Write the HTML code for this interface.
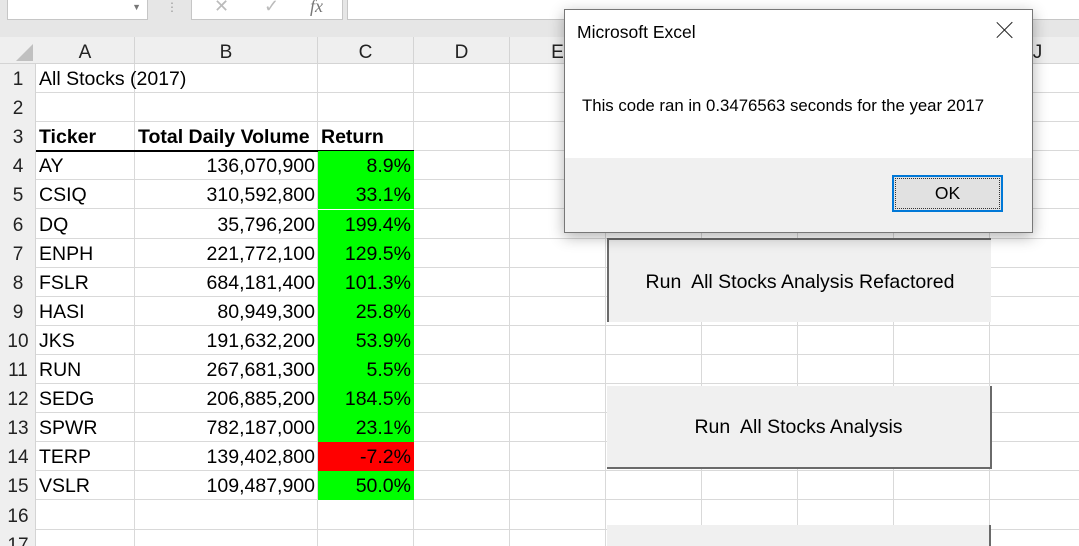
<!DOCTYPE html>
<html style="overflow:hidden;height:546px"><head><meta charset="utf-8">
<style>
body{margin:0;width:1079px;height:546px;overflow:hidden;background:#fff;font-family:"Liberation Sans",sans-serif;position:relative}
.abs{position:absolute;box-sizing:border-box}
.cell{position:absolute;box-sizing:border-box;font-size:19.5px;line-height:29px;white-space:nowrap;padding:0 3px;color:#000}
</style></head><body>
<div class="abs" style="left:0;top:0;width:1079px;height:37px;background:#e6e6e6"></div>
<div class="abs" style="left:7px;top:-1px;width:141px;height:21px;background:#fff;border:1px solid #c6c6c6"><span style="position:absolute;right:6px;top:2px;font-size:9px;color:#777">▼</span></div>
<div class="abs" style="left:191px;top:-1px;width:152px;height:21px;background:#fff;border:1px solid #c6c6c6;color:#bbb;font-size:18px">
<span style="position:absolute;left:22px;top:-4px">✕</span><span style="position:absolute;left:72px;top:-4px">✓</span><span style="position:absolute;left:118px;top:-4px;font-family:'Liberation Serif';font-style:italic;color:#777">fx</span></div>
<div class="abs" style="left:347px;top:-1px;width:740px;height:21px;background:#fff;border:1px solid #c6c6c6"></div>
<div class="abs" style="left:166px;top:0;color:#999;font-size:12px">⋮</div>
<div id="grid" style="position:absolute;left:0;top:0;width:1079px;height:546px;overflow:hidden"></div>
<div class="abs" style="left:607px;top:238px;width:384px;height:84px;background:#f0f0f0;border-left:2px solid #6a6a6a;border-top:2px solid #6a6a6a;font-size:19.5px;text-align:center;line-height:84px">Run&nbsp; All Stocks Analysis Refactored</div>
<div class="abs" style="left:607px;top:386px;width:385px;height:83px;background:#f0f0f0;border-right:2px solid #6a6a6a;border-bottom:2px solid #6a6a6a;font-size:19.5px;text-align:center;line-height:83px">Run&nbsp; All Stocks Analysis</div>
<div class="abs" style="left:607px;top:525px;width:384px;height:21px;background:#f0f0f0;border-right:2px solid #6a6a6a"></div>
<div class="abs" style="left:564px;top:9px;width:469px;height:224px;background:#fff;border:1px solid #777;box-shadow:0 4px 14px rgba(0,0,0,.3)">
<div class="abs" style="left:12px;top:12px;font-size:17.5px">Microsoft Excel</div>
<div class="abs" style="left:432px;top:12px;width:16px;height:16px">
<div style="position:absolute;left:7px;top:-3px;width:1.3px;height:22px;background:#222;transform:rotate(45deg)"></div>
<div style="position:absolute;left:7px;top:-3px;width:1.3px;height:22px;background:#222;transform:rotate(-45deg)"></div></div>
<div class="abs" style="left:17px;top:86px;font-size:16.8px">This code ran in 0.3476563 seconds for the year 2017</div>
<div class="abs" style="left:0;top:148px;width:467px;height:74px;background:#f0f0f0">
<div class="abs" style="left:327px;top:17px;width:111px;height:37px;background:#e1e1e1;border:2px solid #0078d7;outline:1px dotted #333;outline-offset:-4px;text-align:center;line-height:33px;font-size:17.5px">OK</div>
</div></div>
<script>
const tickers=["AY","CSIQ","DQ","ENPH","FSLR","HASI","JKS","RUN","SEDG","SPWR","TERP","VSLR"];
const volumes=[136070900,310592800,35796200,221772100,684181400,80949300,191632200,267681300,206885200,782187000,139402800,109487900];
const returns=[8.9,33.1,199.4,129.5,101.3,25.8,53.9,5.5,184.5,23.1,-7.2,50.0];
const colX=[0,36,135,318,414,510,606,702,798,894,990,1086];
const colNames=["A","B","C","D","E","F","G","H","I","J"];
const rowTop=i=>64+(i-1)*29.1;
const g=document.getElementById('grid');
function add(html){const d=document.createElement('div');d.innerHTML=html;const e=d.firstChild;g.appendChild(e);return e;}
let e=add('<div class="abs" style="left:0;top:37px;width:1079px;height:27px;background:#efefef;border-bottom:1px solid #d4d4d4"></div>');


e=add('<div class="abs" style="left:0;top:64px;width:36px;height:482px;background:#efefef;border-right:1px solid #d4d4d4"></div>');


e=add('<div class="abs" style="left:16px;top:44px;width:0;height:0;border-left:17px solid transparent;border-bottom:17px solid #c0c0c0"></div>');


for(let c=0;c<colNames.length;c++){
 const x=colX[c+1],w=colX[c+2]-x;
 e=add(`<div class="abs" style="left:${x}px;top:37px;width:${w}px;height:27px;border-right:1px solid #d4d4d4;text-align:center;font-size:19px;line-height:31px;color:#222">${colNames[c]}</div>`);
 
 
 e=add(`<div class="abs" style="left:${x+w-1}px;top:64px;width:1px;height:482px;background:#d9d9d9"></div>`);
 
 
}
for(let r=1;r<=17;r++){
 const y=rowTop(r);
 e=add(`<div class="abs" style="left:0;top:${y}px;width:36px;height:29px;text-align:center;font-size:19px;line-height:31px;color:#222">${r}</div>`);
 
 
 e=add(`<div class="abs" style="left:36px;top:${y+28}px;width:1043px;height:1px;background:#d9d9d9"></div>`);
 
 
}
function cell(col,row,text,opts){
 const x=colX[col+1],w=colX[col+2]-x,y=rowTop(row);
 return add(`<div class="cell" style="left:${x}px;top:${y}px;width:${w}px;height:29px;text-align:${opts.align||'left'};font-weight:${opts.bold?'bold':'normal'};background:${opts.bg||'transparent'};line-height:31px">${text}</div>`);
}
e=cell(0,1,"All Stocks (2017)",{}); e.style.overflow="visible";


e=cell(0,3,"Ticker",{bold:1});


e=cell(1,3,"Total Daily Volume",{bold:1});


e=cell(2,3,"Return",{bold:1});


e=add(`<div class="abs" style="left:36px;top:${rowTop(4)-1}px;width:378px;height:1.5px;background:#000"></div>`);


tickers.forEach((t,i)=>{
 const r=i+4;
 e=cell(0,r,t,{});
 
 
 e=cell(1,r,volumes[i].toLocaleString('en-US'),{align:'right'});
 
 
 e=cell(2,r,returns[i].toFixed(1)+'%',{align:'right',bg:returns[i]<0?'#ff0000':'#00ff00'});
 
 
});
</script>
</body></html>
